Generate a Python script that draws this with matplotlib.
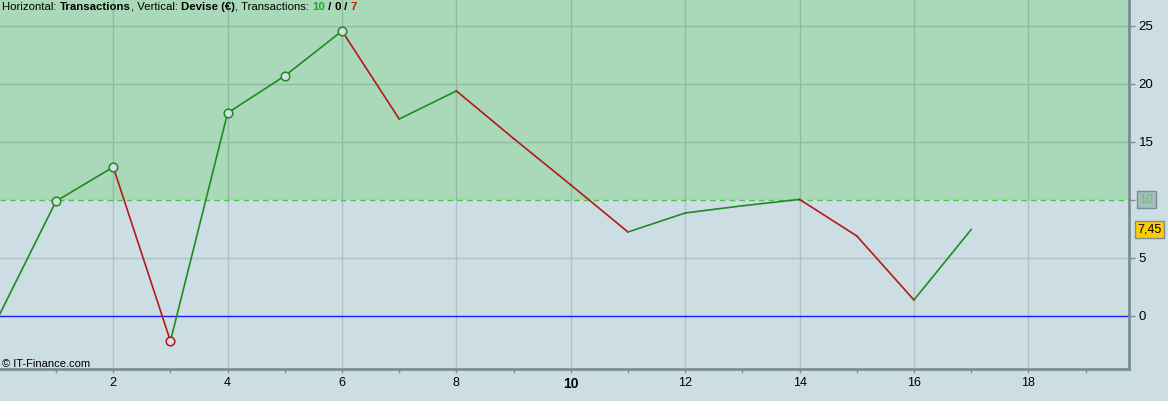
import numpy as np
import matplotlib.pyplot as plt

# Donnees
trades = np.arange(0, 18)
equity = [0, 9.9, 12.84, -2.16, 17.5, 20.7, 24.57, 16.98, 19.4, 15.3, 11.3,
          7.24, 8.88, 9.5, 10.05, 6.9, 1.38, 7.45]
marked = [1, 2, 3, 4, 5, 6]
threshold = 10
last_label = "7,45"
n_win, n_even, n_loss = 10, 0, 7

bg_low = "#cddde4"
bg_high = "#a9d9b9"
green = "#1f8c1f"
red = "#b21a1a"

plt.rcParams['font.family'] = ['Liberation Sans', 'DejaVu Sans']

fig = plt.figure(figsize=(11.68, 4.01), dpi=100, facecolor=bg_low)
ax = fig.add_axes([0, 1 - 369 / 401, 1129 / 1168, 369 / 401])
ax.set_facecolor(bg_low)

x0, x1 = 0.02, 19.76
y0, y1 = -4.57, 27.24
ax.set_xlim(x0, x1)
ax.set_ylim(y0, y1)

# zone au-dessus du seuil
ax.axhspan(threshold, y1, color=bg_high, zorder=0, lw=0)

# grille
for gx in range(2, 20, 2):
    ax.plot([gx, gx], [y0, threshold], color="#aebfc5", lw=1, zorder=1)
    ax.plot([gx, gx], [threshold, y1], color="#8fbba0", lw=1, zorder=1)
for gy in [5, 15, 20, 25]:
    c = "#aebfc5" if gy < threshold else "#8fbba0"
    ax.axhline(gy, color=c, lw=1, zorder=1)

ax.axhline(0, color="#1a1aff", lw=1, zorder=2)
ax.axhline(threshold, color="#44cc44", lw=1, ls=(0, (4, 3)), zorder=2)

# segments colores
for i in range(1, len(equity)):
    c = green if equity[i] >= equity[i - 1] else red
    ax.plot(trades[i - 1:i + 1], equity[i - 1:i + 1], color=c, lw=1.2, zorder=3)

for i in marked:
    c = green if equity[i] >= equity[i - 1] else red
    ax.plot(trades[i], equity[i], "o", ms=6.2, mfc="#d3dfe4", mec=c, mew=1.1, zorder=4)

# axes
for s in ["top", "left"]:
    ax.spines[s].set_visible(False)
for s in ["right", "bottom"]:
    ax.spines[s].set_color("#7a8e96")
    ax.spines[s].set_linewidth(2)

ax.yaxis.tick_right()
ax.set_yticks([0, 5, 10, 15, 20, 25])
ax.set_yticklabels(["0", "5", "", "15", "20", "25"])
ax.tick_params(axis="y", length=4, width=1, color="#7a8e96", labelsize=9.5, pad=3)
ax.set_xticks(range(2, 20, 2))
ax.set_xticks(range(1, 20, 2), minor=True)
ax.set_xticklabels([str(v) for v in range(2, 20, 2)])
ax.tick_params(axis="x", which="both", length=3, width=1, color="#7a8e96",
               labelsize=9, pad=3)
for lab in ax.get_xticklabels():
    if lab.get_text() == "10":
        lab.set_fontweight("bold")
        lab.set_fontsize(10)

# etiquettes a droite
ax.text(1.0093, threshold, str(threshold), transform=ax.get_yaxis_transform(),
        color="#55cc55", fontsize=9, ha="left", va="center",
        bbox=dict(boxstyle="square,pad=0.2", fc="#a9bcc3", ec="#7a8e96", lw=1))
ax.text(1.0075, equity[-1], last_label, transform=ax.get_yaxis_transform(),
        color="black", fontsize=9, ha="left", va="center",
        bbox=dict(boxstyle="square,pad=0.2", fc="#ffcc00", ec="#7a8e96", lw=1))

# titre en morceaux
parts = [("Horizontal: ", "black", "normal"), ("Transactions", "black", "bold"),
         (", Vertical: ", "black", "normal"), ("Devise (€)", "black", "bold"),
         (", Transactions: ", "black", "normal"), (str(n_win), "#22aa22", "bold"),
         (" / ", "black", "bold"), (str(n_even), "black", "bold"),
         (" / ", "black", "bold"), (str(n_loss), "#cc1111", "bold")]
prev = ax.text(0.002, 0.995, parts[0][0], transform=ax.transAxes, color=parts[0][1],
               fontweight=parts[0][2], fontsize=8.2, va="top", ha="left")
for txt, col, w in parts[1:]:
    prev = ax.annotate(txt, xy=(1, 0), xycoords=prev, color=col, fontweight=w,
                       fontsize=8.2, va="bottom", ha="left")

ax.text(0.002, 0.0, "© IT-Finance.com", transform=ax.transAxes, fontsize=8,
        color="black", va="bottom", ha="left")

fig.savefig("out.png", dpi=100, facecolor=bg_low)
